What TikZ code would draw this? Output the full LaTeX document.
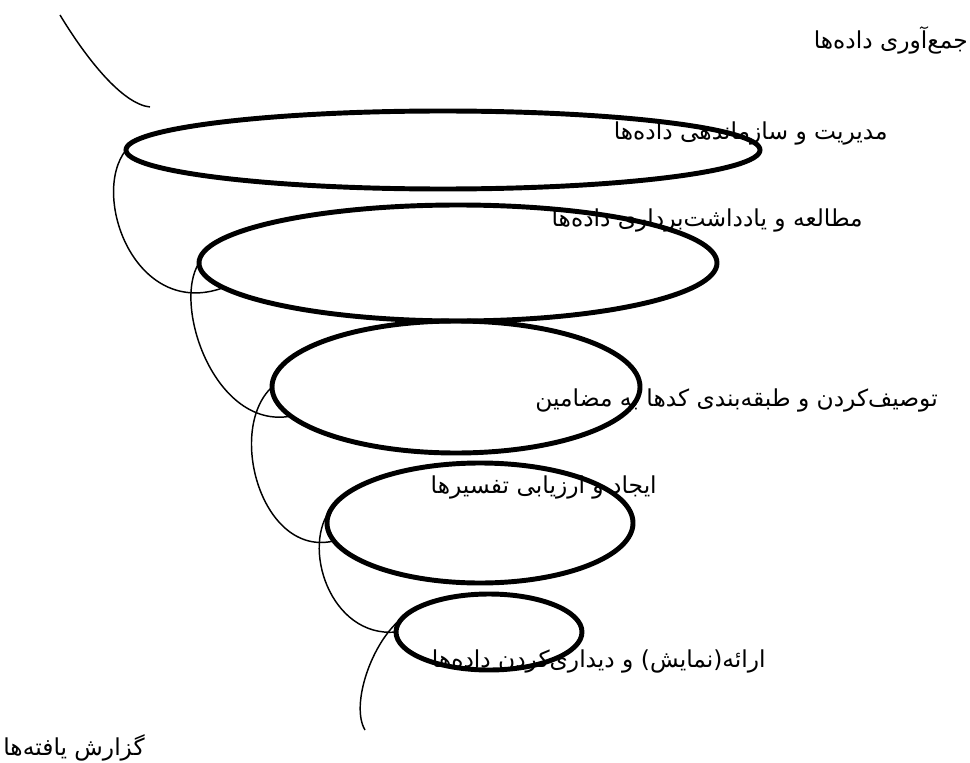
\documentclass[tikz,border=0pt]{standalone}
\usepackage{fontspec}
\usetikzlibrary{shapes.geometric}
\TeXXeTstate=1
\newfontfamily\farsi[Script=Arabic]{DejaVu Sans}

\begin{document}
\begin{tikzpicture}[x=0.75pt,y=-0.75pt,
  ring/.style={draw,ellipse,line width=3.7pt,inner sep=0pt,outer sep=0pt},
  link/.style={line width=1.1pt},
  lbl/.style={anchor=east,inner sep=0pt,font=\farsi\fontsize{17.5}{21}\selectfont}]
\useasboundingbox (0,0) rectangle (970,763);
% stage labels
\node[lbl] (t1) at (968,40) {\beginR جمع‌آوری داده‌ها\endR};
\node[lbl] (t2) at (888,133) {\beginR مدیریت و سازماندهی داده‌ها\endR};
\node[lbl] (t3) at (863,220) {\beginR مطالعه و یادداشت‌برداری داده‌ها\endR};
\node[lbl] (t4) at (938,400) {\beginR توصیف‌کردن و طبقه‌بندی کدها به مضامین\endR};
\node[lbl] (t5) at (657,487) {\beginR ایجاد و ارزیابی تفسیرها\endR};
\node[lbl] (t6) at (766,661) {\beginR ارائه(نمایش) و دیداری‌کردن داده‌ها\endR};
\node[lbl] (t7) at (145,748) {\beginR گزارش یافته‌ها\endR};
% spiral loops
\node[ring,minimum width=475.5pt,minimum height=58.5pt] (e1) at (443,150) {};
\node[ring,minimum width=388.5pt,minimum height=87pt] (e2) at (458,263) {};
\node[ring,minimum width=276pt,minimum height=99pt] (e3) at (456,387) {};
\node[ring,minimum width=229.5pt,minimum height=90pt] (e4) at (480,523) {};
\node[ring,minimum width=139.5pt,minimum height=57pt] (e5) at (489,632) {};
\coordinate (in1) at (60,15);
\coordinate (in2) at (150,107);
\coordinate (out) at (365,730);
% thin turns between loops
\draw[link] (in1) .. controls (86,58) and (122,104) .. (in2);
\draw[link] (e1.west) .. controls (90,195) and (135,320) .. (e2.186);
\draw[link] (e2.west) .. controls (172,305) and (215,430) .. (e3.190);
\draw[link] (e3.west) .. controls (226,430) and (262,558) .. (e4.187);
\draw[link] (e4.174) .. controls (300,545) and (330,638) .. (e5.west);
\draw[link] (e5.170) .. controls (372,640) and (350,705) .. (out);
\end{tikzpicture}
\end{document}
